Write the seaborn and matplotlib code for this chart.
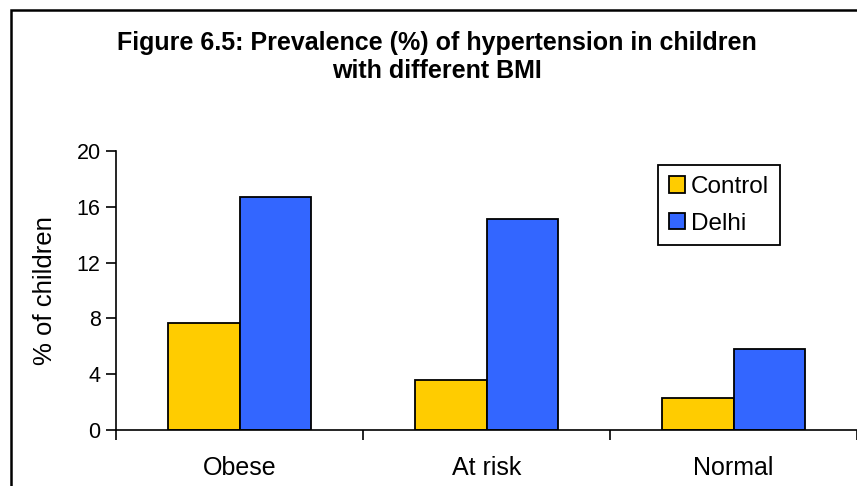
import pandas as pd
import matplotlib
matplotlib.use("Agg")
import matplotlib.pyplot as plt
import seaborn as sns
from matplotlib.patches import Rectangle

categories = ["Obese", "At risk", "Normal"]
control = [7.7, 3.6, 2.3]
delhi = [16.7, 15.1, 5.8]
yticks = [0, 4, 8, 12, 16, 20]

df = pd.DataFrame({
    "bmi": categories * 2,
    "group": ["Control"] * 3 + ["Delhi"] * 3,
    "value": control + delhi,
})

sns.set_style("white")
plt.rcParams["font.family"] = ["Liberation Sans", "DejaVu Sans"]
plt.rcParams["text.color"] = "black"
plt.rcParams["axes.labelcolor"] = "black"
plt.rcParams["xtick.color"] = "black"
plt.rcParams["ytick.color"] = "black"

fig = plt.figure(figsize=(8.57, 4.86), dpi=100)
ax = fig.add_axes([116 / 857, 56 / 486, 741 / 857, 279 / 486])

sns.barplot(
    data=df, x="bmi", y="value", hue="group",
    palette={"Control": "#FFCC00", "Delhi": "#3366FF"}, saturation=1,
    edgecolor="black", linewidth=1.3, width=0.575, gap=0,
    ax=ax, legend=True,
)

ax.set_xlim(-0.5, 2.5)
ax.set_ylim(0, 20)
ax.set_yticks(yticks)
ax.set_yticklabels([str(v) for v in yticks], fontsize=15.5)
ax.set_xticks([0, 1, 2])
ax.set_xticklabels(categories, fontsize=18)
ax.set_xticks([-0.5, 0.5, 1.5, 2.5], minor=True)
ax.tick_params(axis="x", which="major", length=0, pad=19)
ax.tick_params(axis="x", which="minor", length=7, width=1.2, color="black", direction="out", bottom=True)
ax.tick_params(axis="y", length=7, width=1.2, color="black", direction="out", left=True, pad=4)
ax.set_xlabel("")
ax.set_ylabel("% of children", fontsize=18.5, labelpad=14)

for s in ["top", "right"]:
    ax.spines[s].set_visible(False)
for s in ["left", "bottom"]:
    ax.spines[s].set_color("black")
    ax.spines[s].set_linewidth(1.2)

leg = ax.legend(
    loc="upper left", bbox_to_anchor=((658 - 116) / 741, (486 - 56 - 165) / 279),
    fontsize=17.5, frameon=True, fancybox=False, edgecolor="black", framealpha=1,
    handlelength=0.65, handleheight=0.65, handletextpad=0.25, labelspacing=0.6,
    borderpad=0.45, borderaxespad=0,
)
leg.get_frame().set_linewidth(1.3)

fig.text(0.51, 1 - 57 / 486, "Figure 6.5: Prevalence (%) of hypertension in children\nwith different BMI",
         ha="center", va="center", fontsize=18, fontweight="bold", linespacing=1.25)

fig.patches.append(Rectangle((11 / 857, -0.1), 1.2, 1.1 - 10 / 486, transform=fig.transFigure,
                             fill=False, edgecolor="black", linewidth=1.8))

fig.savefig("out.png", dpi=100)
